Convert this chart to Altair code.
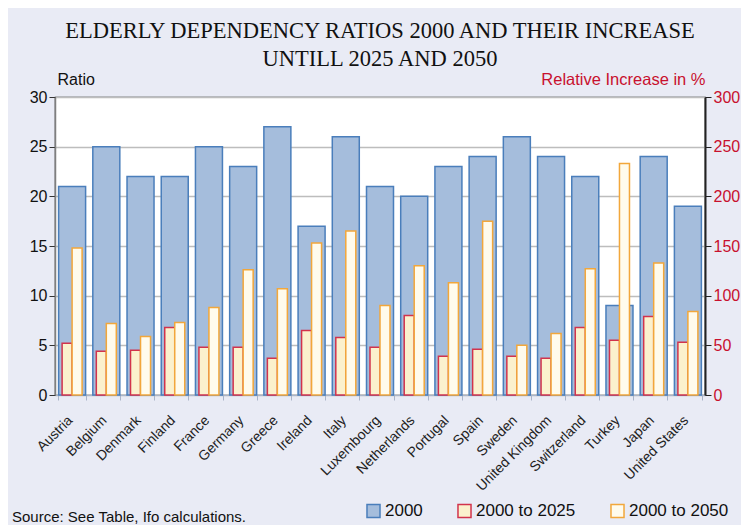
import altair as alt
import pandas as pd

countries = ["Austria", "Belgium", "Denmark", "Finland", "France", "Germany", "Greece",
             "Ireland", "Italy", "Luxembourg", "Netherlands", "Portugal", "Spain", "Sweden",
             "United Kingdom", "Switzerland", "Turkey", "Japan", "United States"]
ratio_2000 = [21, 25, 22, 22, 25, 23, 27, 17, 26, 21, 20, 23, 24, 26, 24, 22, 9, 24, 19]
inc_2025 = [52, 44, 45, 68, 48, 48, 37, 65, 58, 48, 80, 39, 46, 39, 37, 68, 55, 79, 53]
inc_2050 = [148, 72, 59, 73, 88, 126, 107, 153, 165, 90, 130, 113, 175, 50, 62, 127, 233, 133, 84]
series_names = ["2000", "2000 to 2025", "2000 to 2050"]

fill_colors = ["#A5BDDC", "#FBF1CD", "#FFFBEC"]
stroke_colors = ["#4A7EBB", "#D2334C", "#F2A73B"]
red = "#C8102E"

df_blue = pd.DataFrame({"country": countries, "value": ratio_2000, "series": series_names[0]})
df_red = pd.DataFrame({"country": countries, "value": inc_2025, "series": series_names[1]})
df_yel = pd.DataFrame({"country": countries, "value": inc_2050, "series": series_names[2]})

W, H = 650, 298

xenc = alt.X("country:N", sort=countries, title=None,
             scale=alt.Scale(paddingInner=0.2, paddingOuter=0.1),
             axis=alt.Axis(labelAngle=-45, labelFontSize=14, labelColor="#222222",
                           labelFont="Liberation Sans", tickBand="extent", tickColor="#AAB4C8",
                           tickSize=5, domainColor="#AAB4C8", labelPadding=13,
                           labelOffset=-7))

fill_enc = alt.Fill("series:N", title=None,
                    scale=alt.Scale(domain=series_names, range=fill_colors),
                    legend=alt.Legend(orient="none", legendX=310, legendY=405,
                                      direction="horizontal", columns=3,
                                      columnPadding=31, symbolType="square",
                                      symbolSize=170, symbolStrokeWidth=1.5,
                                      labelFontSize=17, labelFont="Liberation Sans",
                                      labelColor="#111111", labelOffset=3))
stroke_enc = alt.Stroke("series:N", title=None,
                        scale=alt.Scale(domain=series_names, range=stroke_colors))

left_axis = alt.Axis(values=[0, 5, 10, 15, 20, 25, 30], title="Ratio", titleAngle=0,
                     titleX=2, titleY=-10, titleAlign="left", titleBaseline="bottom",
                     titleFontSize=16, titleFontWeight="normal", titleFont="Liberation Sans",
                     titleColor="#111111", labelFontSize=16, labelFont="Liberation Sans",
                     labelColor="#111111", grid=True, gridColor="#BDBDBD", gridWidth=1.5,
                     domainColor="#7F7F7F", domainWidth=1.5, tickColor="#333333", tickSize=6)

right_axis = alt.Axis(orient="right", values=[0, 50, 100, 150, 200, 250, 300],
                      title="Relative Increase in %", titleAngle=0, titleX=0, titleY=-10,
                      titleAlign="right", titleBaseline="bottom", titleFontSize=16.5,
                      titleFontWeight="normal", titleFont="Liberation Sans", titleColor=red,
                      labelFontSize=16, labelFont="Liberation Sans", labelColor=red,
                      grid=False, domainColor="#222222", domainWidth=2, tickColor="#222222",
                      tickSize=6)

blue = alt.Chart(df_blue).mark_bar(size=27, strokeWidth=1.5).encode(
    x=xenc,
    y=alt.Y("value:Q", scale=alt.Scale(domain=[0, 30]), axis=left_axis),
    fill=fill_enc, stroke=stroke_enc,
)

redbar = alt.Chart(df_red).mark_bar(size=10, xOffset=-5, strokeWidth=1.5).encode(
    x=xenc,
    y=alt.Y("value:Q", scale=alt.Scale(domain=[0, 300]), axis=right_axis),
    fill=fill_enc, stroke=stroke_enc,
)
yelbar = alt.Chart(df_yel).mark_bar(size=10, xOffset=5, strokeWidth=1.5).encode(
    x=xenc,
    y=alt.Y("value:Q", scale=alt.Scale(domain=[0, 300]), axis=right_axis),
    fill=fill_enc, stroke=stroke_enc,
)

source = alt.Chart(pd.DataFrame({"t": ["Source: See Table, Ifo calculations."]})).mark_text(
    align="left", baseline="alphabetic", fontSize=15, font="Liberation Sans", color="#111111"
).encode(text="t:N", x=alt.value(-43), y=alt.value(H + 127))

chart = alt.layer(blue, alt.layer(redbar, yelbar), source).resolve_scale(
    y="independent"
).properties(
    width=W, height=H,
    autosize=alt.AutoSizeParams(type="none"),
    padding={"left": 47, "top": 89, "right": 36, "bottom": 130},
    background="#E9EBF5",
    title=alt.TitleParams(
        text=["ELDERLY DEPENDENCY RATIOS 2000  AND THEIR INCREASE", "UNTILL 2025 AND 2050"],
        font="Liberation Serif", fontSize=22.5, fontWeight="normal", color="#111111",
        anchor="middle", lineHeight=28, offset=1),
).configure_view(stroke="#222222", strokeWidth=1.2, fill="white")

chart.save("out.html", embed_options={"renderer": "svg", "actions": False})
